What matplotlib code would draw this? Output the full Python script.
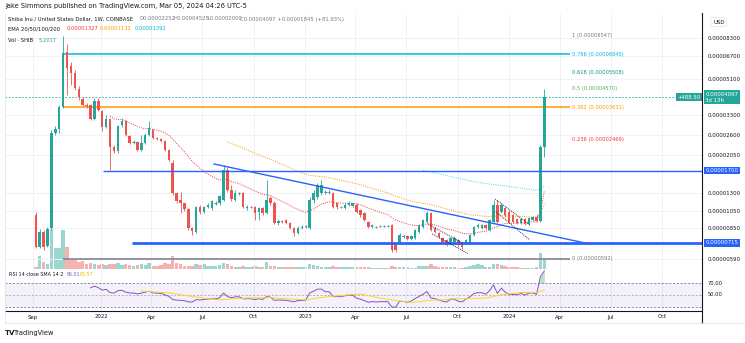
import numpy as np
import pandas as pd
import matplotlib
matplotlib.use("Agg")
import matplotlib.pyplot as plt
import matplotlib.dates as mdates
from matplotlib.lines import Line2D
from matplotlib.ticker import FixedLocator, FixedFormatter, NullLocator

plt.rcParams['font.family'] = ['DejaVu Sans']

# SHIB/USD weekly candles, prices in millionths of a dollar
opens = [10.0, 6.80, 8.15, 6.89, 8.55, 26.6, 28.0, 36.5, 70.5, 59.6,
         54.8, 45.2, 40.1, 37.4, 37.4, 31.6, 39.1, 34.8, 28.7, 31.6,
         22.5, 21.5, 29.4, 30.8, 25.8, 23.9, 23.9, 21.8, 23.7, 26.1,
         27.7, 25.1, 24.8, 24.2, 21.8, 18.7, 13.0, 12.0, 11.5, 10.7,
         8.55, 8.15, 11.0, 10.4, 11.0, 10.8, 11.6, 11.6, 12.0, 17.1,
         13.5, 12.0, 13.0, 13.0, 10.8, 11.0, 11.0, 10.4, 10.8, 10.2,
         12.2, 11.6, 9.08, 9.30, 9.41, 9.08, 8.55, 8.06, 8.55, 8.66,
         8.55, 12.0, 12.4, 13.0, 13.2, 13.2, 13.0, 11.5, 11.0, 10.8,
         11.3, 11.1, 11.3, 10.6, 10.2, 9.19, 8.66, 8.66, 8.76, 8.76,
         8.76, 8.87, 7.06, 7.14, 7.68, 7.78, 7.50, 7.59, 8.15, 8.66,
         9.19, 10.2, 8.55, 8.06, 7.59, 7.40, 7.14, 7.23, 7.40, 7.14,
         7.14, 7.14, 7.87, 8.66, 8.55, 8.87, 8.35, 9.19, 11.3, 10.4,
         10.8, 10.4, 10.0, 9.52, 9.08, 9.52, 8.97, 9.41, 9.75, 9.35,
         22.52]
highs = [10.3, 8.40, 8.30, 8.60, 27.7, 29.0, 37.4, 85.47, 77.5, 62.6,
         56.8, 46.9, 41.1, 38.3, 37.8, 40.6, 40.6, 35.2, 33.1, 32.0,
         23.1, 29.4, 32.0, 31.2, 26.1, 24.5, 24.2, 26.1, 26.6, 30.8,
         28.0, 25.4, 25.1, 24.5, 22.0, 19.3, 13.2, 13.2, 11.6, 10.8,
         8.66, 11.1, 11.3, 11.1, 11.5, 12.0, 11.8, 12.7, 18.2, 17.8,
         14.3, 13.5, 13.2, 13.2, 11.3, 11.1, 11.1, 11.0, 11.0, 15.2,
         12.5, 11.8, 9.50, 9.41, 9.52, 9.19, 8.66, 8.76, 8.87, 8.87,
         12.4, 13.5, 14.7, 15.2, 13.5, 13.5, 13.2, 11.6, 11.1, 11.5,
         11.8, 11.6, 11.5, 10.7, 10.4, 9.30, 8.97, 8.76, 8.87, 8.87,
         8.87, 8.97, 7.14, 8.06, 7.96, 7.87, 7.87, 8.45, 9.00, 9.52,
         10.5, 10.4, 8.66, 8.15, 7.68, 7.50, 7.68, 7.78, 7.50, 7.23,
         7.50, 7.96, 8.76, 9.08, 8.97, 8.97, 9.52, 12.0, 12.0, 11.5,
         11.0, 10.6, 10.1, 9.63, 9.63, 9.63, 9.75, 9.90, 10.0, 23.1,
         45.25]
lows = [6.70, 6.70, 6.60, 6.80, 8.30, 26.1, 26.6, 36.1, 42.1, 47.5,
        44.7, 39.6, 36.9, 36.1, 31.2, 31.2, 34.8, 27.3, 28.3, 17.1,
        21.0, 21.0, 28.7, 25.8, 23.4, 23.4, 21.5, 21.5, 23.4, 25.8,
        24.8, 24.5, 23.9, 21.5, 19.0, 12.7, 11.5, 10.2, 10.5, 8.35,
        7.87, 8.06, 10.1, 10.2, 10.8, 10.6, 11.3, 11.3, 11.8, 13.2,
        11.8, 11.8, 12.7, 10.8, 10.6, 10.8, 9.41, 9.41, 10.0, 10.1,
        11.3, 8.97, 8.87, 9.08, 8.97, 8.45, 7.78, 7.96, 8.45, 8.55,
        8.45, 11.6, 12.1, 12.7, 12.9, 12.9, 10.8, 10.7, 10.8, 10.7,
        11.1, 11.0, 10.2, 9.75, 9.30, 8.55, 8.55, 8.55, 8.66, 8.66,
        8.66, 6.41, 6.41, 7.06, 7.59, 7.40, 7.40, 7.50, 8.06, 8.55,
        9.08, 8.25, 8.06, 7.59, 7.14, 6.89, 7.06, 7.14, 6.80, 6.64,
        7.06, 7.06, 7.78, 8.55, 8.45, 8.45, 8.25, 9.08, 9.08, 10.2,
        9.75, 9.08, 9.08, 8.97, 8.97, 8.87, 8.87, 9.30, 9.19, 9.19,
        20.00]
closes = [6.80, 8.15, 6.80, 8.45, 26.6, 28.0, 36.5, 69.6, 58.2, 54.8,
          45.8, 41.1, 37.4, 36.9, 31.6, 39.1, 35.2, 28.7, 31.6, 22.5,
          21.5, 29.0, 30.8, 26.1, 23.8, 24.0, 21.8, 23.7, 26.1, 28.3,
          25.1, 24.8, 24.2, 21.8, 19.3, 13.0, 11.8, 11.5, 10.7, 8.55,
          8.25, 11.0, 10.4, 11.0, 11.3, 11.8, 11.6, 12.5, 17.1, 13.5,
          12.1, 13.0, 13.0, 11.0, 11.0, 11.0, 10.2, 10.8, 10.2, 12.0,
          11.6, 9.08, 9.30, 9.19, 9.08, 8.55, 8.06, 8.55, 8.66, 8.76,
          12.0, 13.0, 14.3, 14.3, 13.2, 13.2, 11.0, 11.0, 11.0, 11.3,
          11.6, 11.5, 10.4, 10.0, 9.41, 8.66, 8.87, 8.66, 8.76, 8.76,
          8.76, 6.56, 6.56, 7.87, 7.78, 7.50, 7.78, 8.35, 8.87, 9.41,
          10.2, 8.35, 8.15, 7.68, 7.23, 6.97, 7.59, 7.59, 6.97, 6.80,
          7.40, 7.87, 8.66, 8.87, 8.87, 8.55, 9.41, 11.3, 9.19, 11.3,
          10.0, 9.19, 9.19, 9.08, 9.52, 8.97, 9.63, 9.75, 9.30, 22.52,
          40.97]
# weekly volume, trillions of SHIB
volume = [1.2, 7.5, 4.0, 3.0, 36.0, 12.0, 12.0, 22.5, 12.7, 5.2,
          5.2, 4.0, 4.6, 2.9, 3.2, 2.9, 2.3, 2.9, 2.3, 3.0,
          2.6, 3.5, 2.3, 2.6, 2.3, 1.8, 2.3, 2.9, 2.3, 3.5,
          2.0, 1.7, 2.3, 3.5, 2.9, 7.5, 3.5, 2.9, 1.7, 1.7,
          1.7, 2.9, 2.3, 2.6, 2.0, 2.0, 1.7, 2.3, 3.5, 3.0,
          1.7, 1.2, 1.2, 1.7, 1.2, 1.0, 1.7, 1.2, 1.0, 4.0,
          2.0, 1.7, 1.2, 1.0, 1.0, 1.0, 1.2, 1.0, 1.0, 1.0,
          2.9, 2.3, 2.0, 1.2, 1.0, 1.0, 1.7, 1.2, 1.0, 1.0,
          1.0, 1.0, 1.0, 1.0, 1.0, 1.0, 0.8, 0.8, 0.8, 0.8,
          0.8, 1.7, 1.2, 1.0, 1.0, 1.0, 0.8, 0.8, 1.7, 1.7,
          2.0, 2.9, 1.7, 1.2, 1.2, 1.0, 1.0, 1.0, 0.8, 0.8,
          1.0, 2.0, 2.3, 2.9, 2.3, 1.2, 1.0, 2.9, 2.9, 2.3,
          1.7, 1.2, 1.0, 1.0, 0.8, 0.8, 0.8, 0.8, 1.0, 9.3,
          5.2]

price_ticks = [0.00008300, 0.00006700, 0.00005100, 0.00003300, 0.00002600,
               0.00002050, 0.00001300, 0.00001050, 0.00000850, 0.00000590]
fib_high = 0.00008547
fib_low = 0.00000592
fib_ratios = [1, 0.786, 0.618, 0.5, 0.382, 0.236, 0]
fib_colors = ['#787b86', '#00bcd4', '#089981', '#4caf50', '#ff9800', '#f23645', '#787b86']
fib_lined = [0.786, 0.382, 0]
last_price = 0.00004097
support_hi = 0.00001700
support_lo = 0.00000715
# hand-drawn trendline and flag channels: (date, price) anchors
trendline = [("2022-07-22", 0.0000184), ("2024-05-24", 0.00000706)]
flags = [[("2023-08-09", 0.00000897), ("2023-10-09", 0.00000714)],
         [("2023-08-16", 0.00000797), ("2023-10-19", 0.00000630)],
         [("2023-12-07", 0.0000121), ("2024-02-07", 0.00000887)],
         [("2023-12-08", 0.0000104), ("2024-02-07", 0.00000740)]]
month_labels = ["Sep", "2022", "Apr", "Jul", "Oct", "2023", "Apr", "Jul", "Oct",
                "2024", "Apr", "Jul", "Oct"]
month_dates = ["2021-09-01", "2022-01-01", "2022-04-01", "2022-07-01", "2022-10-01",
               "2023-01-01", "2023-04-01", "2023-07-01", "2023-10-01", "2024-01-01",
               "2024-04-01", "2024-07-01", "2024-10-01"]

UP = '#26a69a'
DOWN = '#ef5350'
TXT = '#131722'
GRID = '#eef1f6'

df = pd.DataFrame({'open': opens, 'high': highs, 'low': lows, 'close': closes,
                   'volume': volume},
                  index=pd.date_range("2021-09-06", periods=len(closes), freq="W-MON"))
df[['open', 'high', 'low', 'close']] *= 1e-6


def seeded_ma(values, n, alpha):
    # recursive average seeded with a simple mean of the first n values
    v = np.asarray(values, dtype=float)
    out = np.full(len(v), np.nan)
    start = np.argmax(~np.isnan(v))
    if len(v) - start < n:
        return out
    out[start + n - 1] = v[start:start + n].mean()
    for i in range(start + n, len(v)):
        out[i] = alpha * v[i] + (1 - alpha) * out[i - 1]
    return out


for n in (20, 50, 100):
    df[f'ema{n}'] = seeded_ma(df['close'], n, 2 / (n + 1))

delta = df['close'].diff()
gain = seeded_ma(delta.clip(lower=0), 14, 1 / 14)
loss = seeded_ma((-delta.clip(upper=0)), 14, 1 / 14)
rsi = pd.Series(100 - 100 / (1 + gain / loss), index=df.index)
rsi_sma = rsi.rolling(14).mean()

W, H = 745, 343
def rect(x0, y0, x1, y1):
    return [x0 / W, 1 - y1 / H, (x1 - x0) / W, (y1 - y0) / H]

fig = plt.figure(figsize=(W / 100, H / 100), dpi=100)
fig.patch.set_facecolor('white')

x0 = mdates.date2num(pd.Timestamp("2021-07-13"))
x1 = mdates.date2num(pd.Timestamp("2024-12-11"))
xs = mdates.date2num(df.index)
grid_x = mdates.date2num(pd.to_datetime(month_dates))

# volume underlay
axv = fig.add_axes(rect(5, 14, 702, 269), zorder=0)
axv.set_xlim(x0, x1)
axv.set_ylim(0, 147)
axv.axis('off')
up = df['close'] >= df['open']
axv.bar(xs, df['volume'], width=6.3, color=np.where(up, UP, DOWN), alpha=0.45, linewidth=0)

ax = fig.add_axes(rect(5, 14, 702, 269), zorder=1)
ax.patch.set_alpha(0)
ax.set_yscale('log')
ax.set_xlim(x0, x1)
ax.set_ylim(5.23e-6, 1.11e-4)
for s in ax.spines.values():
    s.set_visible(False)
ax.yaxis.set_major_locator(FixedLocator(price_ticks))
ax.yaxis.set_major_formatter(FixedFormatter([f"{v:.8f}" for v in price_ticks]))
ax.yaxis.set_minor_locator(NullLocator())
ax.yaxis.tick_right()
ax.tick_params(axis='y', length=0, pad=4, labelsize=3.9, labelcolor=TXT)
ax.set_xticks([])
for g in price_ticks:
    ax.axhline(g, color=GRID, lw=0.7, zorder=0)
for g in grid_x:
    ax.axvline(g, color=GRID, lw=0.7, zorder=0)

# candles
cols = np.where(up, UP, DOWN)
ax.vlines(xs, df['low'], df['high'], colors=cols, lw=0.6, zorder=3)
lo = np.minimum(df['open'], df['close'])
hi = np.maximum(df['open'], df['close'])
ax.bar(xs, hi - lo, bottom=lo, width=4.3, color=cols, linewidth=0, zorder=4)
flat = (hi - lo) / lo < 0.01
ax.hlines(df['close'][flat], xs[flat] - 2.2, xs[flat] + 2.2, colors='#787b86', lw=0.8, zorder=4)

# moving averages
ax.plot(xs, df['ema20'], color='#f23645', lw=0.7, ls=(0, (1, 1.3)), zorder=2)
ax.plot(xs, df['ema50'], color='#ff9800', lw=0.7, ls=(0, (1, 1.3)), zorder=2)
ax.plot(xs, df['ema100'], color='#40d8ea', lw=0.7, ls=(0, (1, 1.3)), zorder=2)

# fibonacci retracement
fib_start = mdates.date2num(pd.Timestamp("2021-10-25"))
fib_end = mdates.date2num(pd.Timestamp("2024-04-18"))
fib_text_x = mdates.date2num(pd.Timestamp("2024-04-23"))
for r, c in zip(fib_ratios, fib_colors):
    level = fib_low + r * (fib_high - fib_low)
    if r in fib_lined:
        ax.hlines(level, fib_start, fib_end, color=c, lw=1.1, zorder=2)
    ax.text(fib_text_x, level, f"{r} ({level:.8f})", color=c, fontsize=3.7,
            va='center', ha='left', zorder=5)

# support / resistance and trendlines
ax.hlines(support_hi, mdates.date2num(pd.Timestamp("2022-01-05")), x1, color='#2962ff', lw=1.0, zorder=5)
ax.hlines(support_lo, mdates.date2num(pd.Timestamp("2022-02-25")), x1, color='#2962ff', lw=2.0, zorder=5)
tl = pd.to_datetime([p[0] for p in trendline])
ax.plot(mdates.date2num(tl), [p[1] for p in trendline], color='#2962ff', lw=1.0, zorder=5)
for f in flags:
    fd = pd.to_datetime([p[0] for p in f])
    ax.plot(mdates.date2num(fd), [p[1] for p in f], color='#131722', lw=0.6, ls=(0, (1.2, 1.2)), zorder=5)

ax.axhline(last_price, color=UP, lw=0.6, ls=(0, (2, 2)), zorder=2)

# price tags on the scale
def tag(y, text, color):
    ax.annotate(text, xy=(1, y), xycoords=('axes fraction', 'data'),
                xytext=(2.5, 0), textcoords='offset points', ha='left', va='center',
                fontsize=3.9, color='white',
                bbox=dict(boxstyle='square,pad=0.25', fc=color, ec='none'), zorder=10)

tag(support_hi, f"{support_hi:.8f}", '#2962ff')
tag(support_lo, f"{support_lo:.8f}", '#2962ff')
tag(last_price, f"{last_price:.8f}\n3d 13h", UP)
ax.annotate("+488.50", xy=(1, last_price), xycoords=('axes fraction', 'data'),
            xytext=(-1, 0), textcoords='offset points', ha='right', va='center',
            fontsize=3.9, color='white',
            bbox=dict(boxstyle='square,pad=0.25', fc=UP, ec='none'), zorder=10)

# RSI pane
axr = fig.add_axes(rect(5, 270, 702, 311))
axr.set_xlim(x0, x1)
axr.set_ylim(23.3, 91.7)
for s in axr.spines.values():
    s.set_visible(False)
axr.set_xticks([])
axr.set_yticks([])
for g in grid_x:
    axr.axvline(g, color=GRID, lw=0.7, zorder=0)
axr.axhspan(30, 70, color='#7e57c2', alpha=0.08, lw=0)
for lvl, a in ((70, 1), (50, 0.6), (30, 1)):
    axr.axhline(lvl, color='#787b86', lw=0.6, ls=(0, (2.5, 2)), alpha=a)
axr.plot(xs, rsi, color='#7e57c2', lw=0.7)
axr.plot(xs, rsi_sma, color='#f5dc1c', lw=0.7)
axr.fill_between(xs, 70, rsi, where=rsi > 70, color='#4caf50', alpha=0.35, lw=0, interpolate=True)
for lvl in (70, 50):
    axr.annotate(f"{lvl:.2f}", xy=(1, lvl), xycoords=('axes fraction', 'data'),
                 xytext=(4, 0), textcoords='offset points', ha='left', va='center',
                 fontsize=3.7, color=TXT)

# frame lines and time scale
fig.add_artist(Line2D([702 / W, 702 / W], [1 - 13 / H, 1 - 323 / H], color=TXT, lw=0.8))
fig.add_artist(Line2D([5 / W, 702 / W], [1 - 311 / H, 1 - 311 / H], color=TXT, lw=0.8))
fig.add_artist(Line2D([5 / W, 5 / W], [1 - 14 / H, 1 - 323 / H], color='#e0e3eb', lw=0.6))
fig.add_artist(Line2D([5 / W, 745 / W], [1 - 323 / H, 1 - 323 / H], color='#e0e3eb', lw=0.6))
for d, lab in zip(grid_x, month_labels):
    fx = (5 + (d - x0) / (x1 - x0) * 697) / W
    fig.text(fx, 1 - 317 / H, lab, ha='center', va='center', fontsize=3.9, color=TXT)

# header
fig.text(5 / W, 1 - 6 / H, "Jake Simmons published on TradingView.com, Mar 05, 2024 04:26 UTC-5",
         fontsize=4.8, color=TXT, va='center')
fig.text(8 / W, 1 - 19 / H, "Shiba Inu / United States Dollar, 1W, COINBASE", fontsize=3.8, color=TXT, va='center')
for xp, t in ((140, "O0.00002252"), (173, "H0.00004525"), (207, "L0.00002000"),
              (240, "C0.00004097 +0.00001845 (+81.93%)")):
    fig.text(xp / W, 1 - 19 / H, t, fontsize=3.8, color='#787b86', va='center')
fig.text(8 / W, 1 - 29 / H, "EMA 20/50/100/200", fontsize=3.8, color=TXT, va='center')
for xp, t, c in ((67, "0.00001327", '#f23645'), (100, "0.00001132", '#ff9800'),
                 (135, "0.00001392", '#00bcd4')):
    fig.text(xp / W, 1 - 29 / H, t, fontsize=3.8, color=c, va='center')
fig.text(8 / W, 1 - 40 / H, "Vol · SHIB", fontsize=3.8, color=TXT, va='center')
fig.text(39 / W, 1 - 40 / H, "5.201T", fontsize=3.8, color=UP, va='center')
fig.text(9 / W, 1 - 275 / H, "RSI 14 close SMA 14 2", fontsize=3.5, color=TXT, va='center')
fig.text(67 / W, 1 - 275 / H, "95.01", fontsize=3.4, color='#7e57c2', va='center')
fig.text(80 / W, 1 - 275 / H, "60.57", fontsize=3.4, color='#e6c700', va='center')
fig.text(713 / W, 1 - 22 / H, "USD", fontsize=3.9, color=TXT, va='center',
         bbox=dict(boxstyle='round,pad=0.4', fc='white', ec='#e0e3eb', lw=0.5))
fig.text(5 / W, 1 - 333 / H, "TV", fontsize=5, color=TXT, va='center', fontweight='bold')
fig.text(14 / W, 1 - 333 / H, "TradingView", fontsize=4.8, color=TXT, va='center')

fig.savefig("out.png", dpi=100, facecolor='white')
